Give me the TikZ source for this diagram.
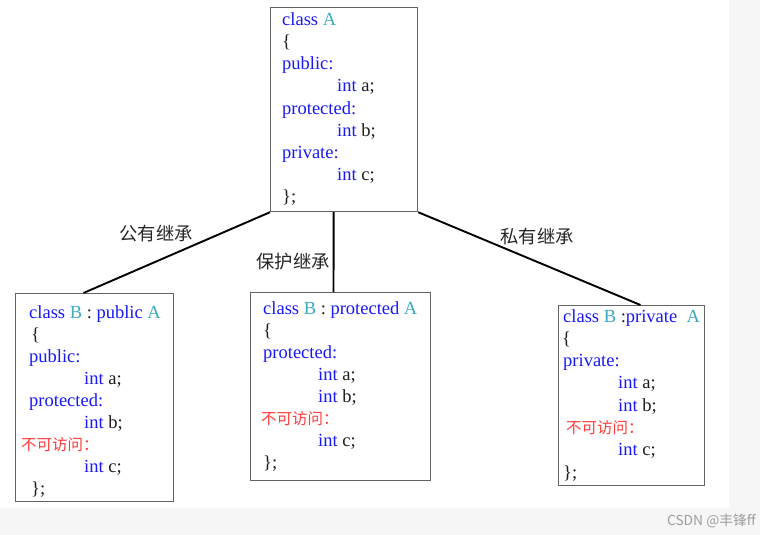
\documentclass[tikz,border=0pt]{standalone}
\usepackage{fontspec}
\setmainfont{Liberation Serif}
\newfontfamily\cjk{Noto Sans CJK SC}
\usetikzlibrary{calc}
\definecolor{kwc}{RGB}{25,25,245}
\definecolor{clc}{RGB}{60,170,195}
\definecolor{txc}{RGB}{30,30,30}
\definecolor{redc}{RGB}{255,60,60}
\definecolor{bdc}{RGB}{100,100,100}
\definecolor{bgc}{RGB}{246,246,246}
\newcommand\kwd[1]{\textcolor{kwc}{#1}}
\newcommand\cls[1]{\textcolor{clc}{#1}}
\begin{document}
\begin{tikzpicture}[x=1pt,y=-1pt,
  box/.style={draw=bdc, line width=1.2pt, anchor=north west, inner sep=0pt},
  code/.style={anchor=base west, inner sep=0pt, text=txc, font=\fontsize{18.5}{21}\selectfont},
  noacc/.style={anchor=base west, inner sep=0pt, text=redc, font=\cjk\fontsize{15.5}{18}\selectfont},
  lbl/.style={inner sep=0pt, text=black!85, font=\cjk\fontsize{18.3}{21}\selectfont},
  link/.style={line width=1.9pt, black}]
\useasboundingbox (0,0) rectangle (760,535);
\fill[bgc] (0,0) rectangle (760,535);
\fill[white] (0,0) rectangle (729,508);
\node[anchor=east, inner sep=0pt, text=black!38, font=\cjk\fontsize{13.8}{16}\selectfont] (wm) at (756,521) {CSDN @丰锋ff};

% boxes
\node[box, minimum width=147pt, minimum height=204pt] (boxA) at (270,7) {};
\node[box, minimum width=158pt, minimum height=208pt] (boxB1) at (15,293) {};
\node[box, minimum width=180pt, minimum height=188pt] (boxB2) at (250,292) {};
\node[box, minimum width=146pt, minimum height=180pt] (boxB3) at (558,305) {};

% box A text
\node[code] (a1) at (282,26) {\kwd{class} \cls{A}};
\node[code] (a2) at (282,48) {\{};
\node[code] (a3) at (282,70) {\kwd{public:}};
\node[code] (a4) at (337,92) {\kwd{int} a;};
\node[code] (a5) at (282,114) {\kwd{protected:}};
\node[code] (a6) at (337,136) {\kwd{int} b;};
\node[code] (a7) at (282,158) {\kwd{private:}};
\node[code] (a8) at (337,180) {\kwd{int} c;};
\node[code] (a9) at (282,202) {\};};

% box B1 text
\node[code] (p1) at (29,318) {\kwd{class} \cls{B} : \kwd{public} \cls{A}};
\node[code] (p2) at (31,340) {\{};
\node[code] (p3) at (29,362) {\kwd{public:}};
\node[code] (p4) at (84,384) {\kwd{int} a;};
\node[code] (p5) at (29,406) {\kwd{protected:}};
\node[code] (p6) at (84,428) {\kwd{int} b;};
\node[noacc] (p7) at (21,450) {不可访问：};
\node[code] (p8) at (84,472) {\kwd{int} c;};
\node[code] (p9) at (31,494) {\};};

% box B2 text
\node[code] (q1) at (263,314) {\kwd{class} \cls{B} : \kwd{protected} \cls{A}};
\node[code] (q2) at (263,336) {\{};
\node[code] (q3) at (263,358) {\kwd{protected:}};
\node[code] (q4) at (318,380) {\kwd{int} a;};
\node[code] (q5) at (318,402) {\kwd{int} b;};
\node[noacc] (q6) at (261,424) {不可访问：};
\node[code] (q7) at (318,446) {\kwd{int} c;};
\node[code] (q8) at (263,468) {\};};

% box B3 text
\node[code] (r1) at (563,322) {\kwd{class} \cls{B} :\kwd{private} \ \cls{A}};
\node[code] (r2) at (562,344.3) {\{};
\node[code] (r3) at (563,366.6) {\kwd{private:}};
\node[code] (r4) at (618,388.9) {\kwd{int} a;};
\node[code] (r5) at (618,411.2) {\kwd{int} b;};
\node[noacc] (r6) at (566,433.5) {不可访问：};
\node[code] (r7) at (618,455.8) {\kwd{int} c;};
\node[code] (r8) at (563,478.1) {\};};

% connectors
\draw[link] (boxA.south west) -- ($(boxB1.north west)!0.43!(boxB1.north east)$);
\draw[link] ($(boxA.south west)!0.429!(boxA.south east)$) -- ($(boxB2.north west)!0.461!(boxB2.north east)$);
\draw[link] (boxA.south east) -- ($(boxB3.north west)!0.56!(boxB3.north east)$);

% labels
\node[lbl] (l1) at (156,234) {公有继承};
\node[lbl] (l2) at (293,262) {保护继承};
\node[lbl] (l3) at (537,237) {私有继承};
\end{tikzpicture}
\end{document}
